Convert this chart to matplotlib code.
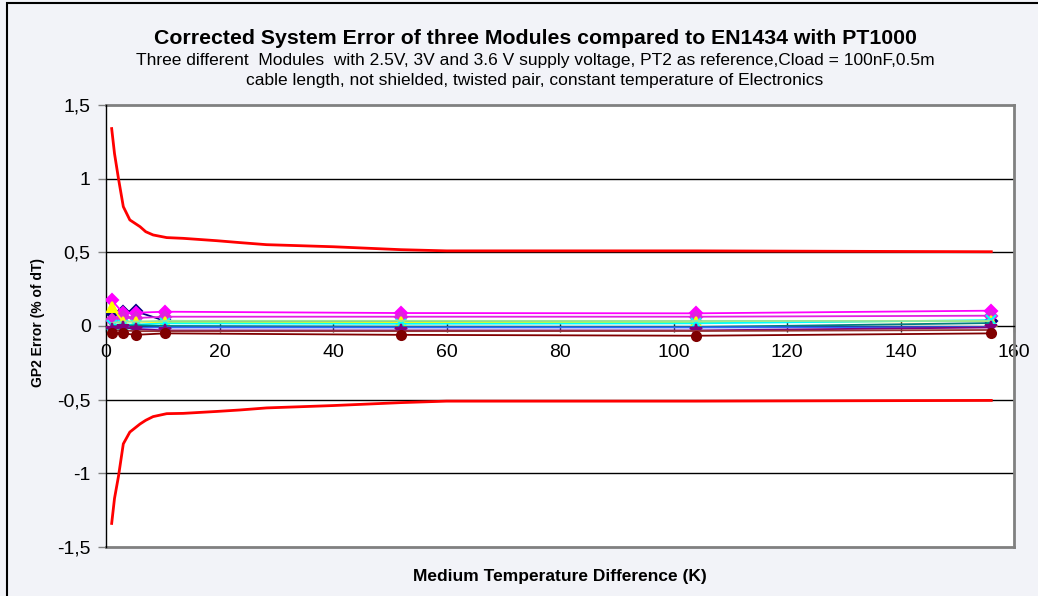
import numpy as np
import matplotlib
matplotlib.use("Agg")
import matplotlib.pyplot as plt
from matplotlib.patches import Rectangle

plt.rcParams['font.family'] = ['Liberation Sans', 'DejaVu Sans']

# EN1434 limit curve
limit_x = [1, 1.5, 2.2, 3.05, 4.2, 6, 7, 8.3, 10.7, 13.6, 19.5, 23.6, 28.3, 34.2, 40, 52, 60, 104, 156]
limit_upper = [1.34, 1.17, 1.0, 0.81, 0.72, 0.674, 0.64, 0.618, 0.60, 0.595, 0.579, 0.566, 0.552,
               0.545, 0.538, 0.518, 0.51, 0.51, 0.504]
limit_lower = [-1.34, -1.17, -1.02, -0.80, -0.72, -0.665, -0.64, -0.615, -0.595, -0.593, -0.58,
               -0.57, -0.556, -0.548, -0.54, -0.52, -0.51, -0.51, -0.505]

# measured series
dT = [1, 3, 5.2, 10.4, 52, 104, 156]
series = {
    'navy':     [0.085, 0.097, 0.100, 0.035, 0.030, 0.030, 0.035],
    'magenta':  [0.176, 0.088, 0.090, 0.097, 0.088, 0.086, 0.104],
    'magenta2': [0.040, 0.063, 0.054, 0.063, 0.063, 0.063, 0.070],
    'yellow':   [0.130, 0.030, 0.030, 0.025, 0.025, 0.027, 0.034],
    'cyan':     [0.010, 0.010, 0.010, 0.018, 0.015, 0.018, 0.040],
    'green':    [0.020, 0.030, 0.030, 0.035, 0.035, 0.034, 0.035],
    'teal':     [0.000, 0.000, 0.005, 0.000, -0.005, -0.007, 0.020],
    'blue':     [-0.010, -0.005, -0.010, -0.010, -0.010, -0.010, -0.007],
    'purple':   [-0.020, -0.010, -0.020, -0.030, -0.030, -0.030, -0.010],
    'darkred':  [-0.030, -0.030, -0.035, -0.035, -0.035, -0.034, -0.027],
    'maroon':   [-0.050, -0.050, -0.060, -0.050, -0.060, -0.066, -0.050],
}
styles = {
    'navy':     ('#000080', 'D'),
    'magenta':  ('#FF00FF', 'D'),
    'magenta2': ('#E020E0', 'D'),
    'yellow':   ('#FFFF00', '^'),
    'cyan':     ('#00FFFF', 'x'),
    'green':    ('#99E699', None),
    'teal':     ('#008080', None),
    'blue':     ('#3366FF', None),
    'purple':   ('#800080', '*'),
    'darkred':  ('#993333', None),
    'maroon':   ('#800000', 'o'),
}

bg = '#f2f3f8'
fig = plt.figure(figsize=(10.38, 5.96), dpi=100, facecolor=bg)
fig.patches.append(Rectangle((7 / 1038, -0.1), 1.2, 593 / 596 + 0.1,
                             transform=fig.transFigure, fill=False, ec='black', lw=1.5))
ax = fig.add_axes([106 / 1038, 1 - 547 / 596, 908 / 1038, 442 / 596])
ax.set_facecolor('white')

for y in [1, 0.5, -0.5, -1]:
    ax.axhline(y, color='black', lw=1, zorder=1)
for y in [1.5, -1.5]:
    ax.axhline(y, color='#808080', lw=2, zorder=1, clip_on=False)

for name, vals in series.items():
    c, m = styles[name]
    ax.plot(dT, vals, color=c, lw=1.3, marker=m, ms=6.5 if m != '*' else 8.5,
            mec=c, mfc=c, mew=1.5, zorder=3)

ax.plot(limit_x, limit_upper, color='red', lw=2, zorder=4)
ax.plot(limit_x, limit_lower, color='red', lw=2, zorder=4)

ax.set_xlim(0, 160)
ax.set_ylim(-1.5, 1.5)

ax.spines['bottom'].set_position(('data', 0))
ax.spines['bottom'].set_color('black')
ax.spines['bottom'].set_linewidth(1)
ax.spines['left'].set_color('black')
ax.spines['left'].set_linewidth(1)
ax.spines['top'].set_visible(False)
ax.spines['right'].set_color('#808080')
ax.spines['right'].set_linewidth(2)

ax.set_xticks(range(0, 161, 20))
ax.set_xticklabels([str(v) for v in range(0, 161, 20)])
ax.tick_params(axis='x', direction='inout', length=8, width=1, color='#333333',
               labelsize=14, pad=9)
yt = [-1.5, -1, -0.5, 0, 0.5, 1, 1.5]
ax.set_yticks(yt)
ax.set_yticklabels(['-1,5', '-1', '-0,5', '0', '0,5', '1', '1,5'])
ax.tick_params(axis='y', direction='out', length=6, width=1, color='#808080',
               labelsize=14, pad=5)

fig.text(38 / 1038, 1 - 322 / 596, 'GP2 Error (% of dT)', rotation=90, ha='center',
         va='center', fontsize=10, fontweight='bold')
fig.text(560 / 1038, 1 - 576 / 596, 'Medium Temperature Difference (K)', ha='center',
         va='center', fontsize=12.5, fontweight='bold')

fig.text(535 / 1038, 1 - 38 / 596, 'Corrected System Error of three Modules compared to EN1434 with PT1000',
         ha='center', va='center', fontsize=15.3, fontweight='bold')
fig.text(535 / 1038, 1 - 60 / 596,
         'Three different  Modules  with 2.5V, 3V and 3.6 V supply voltage, PT2 as reference,Cload = 100nF,0.5m',
         ha='center', va='center', fontsize=12.5)
fig.text(535 / 1038, 1 - 80 / 596,
         'cable length, not shielded, twisted pair, constant temperature of Electronics',
         ha='center', va='center', fontsize=12.5)

fig.savefig('out.png', dpi=100, facecolor=bg)
